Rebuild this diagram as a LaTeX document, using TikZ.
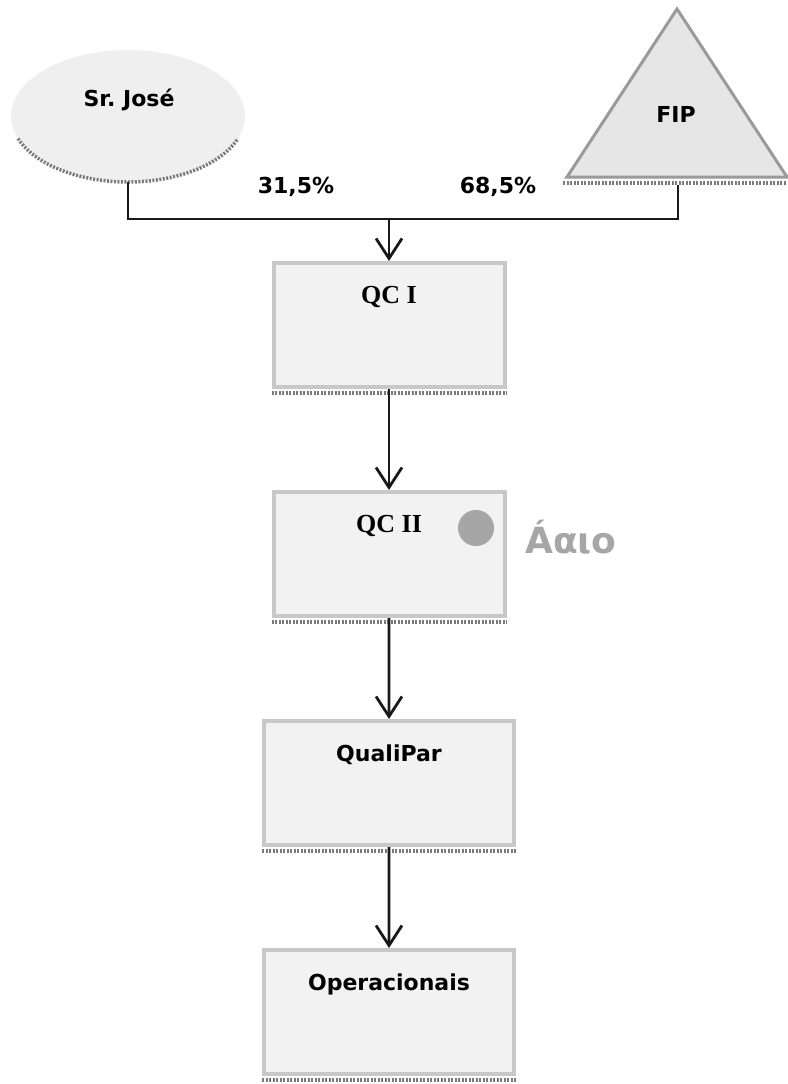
\documentclass[tikz,border=0pt]{standalone}
\usepackage{fontspec}
\setmainfont{DejaVu Sans}
\newfontfamily\qcfont{Liberation Serif}
\usetikzlibrary{calc, shapes, backgrounds, arrows.meta}

\definecolor{boxfill}{HTML}{F2F2F2}
\definecolor{boxline}{HTML}{C8C8C8}
\definecolor{rimgray}{HTML}{7A7A7A}
\definecolor{markgray}{HTML}{A6A6A6}
\definecolor{trifill}{HTML}{E6E6E6}
\definecolor{triline}{HTML}{9A9A9A}
\definecolor{ovalfill}{HTML}{EFEFEF}

\begin{document}
\frenchspacing
\begin{tikzpicture}
  [
    x = 1pt, y = -1pt,
    every node/.style = {font = \fontsize{22}{26}\selectfont\bfseries},
    box/.style = {rectangle, draw = boxline, line width = 4pt, fill = boxfill,
      minimum width = 250pt, inner sep = 0pt,
      text height = 40pt, text depth = 84pt},
    narrow/.style = {minimum width = 231pt},
    qc/.style = {font = \qcfont\fontsize{26}{30}\selectfont\bfseries},
    rim/.style = {draw = rimgray, line width = 3.5pt, dash pattern = on 2pt off 1.5pt},
    link/.style = {draw = black!90, line width = 2.8pt},
    tip/.style = {-{Straight Barb[length=20pt, width=26pt]}},
    grow = down,  % boxes one under the other
    level distance = 229pt,
    edge from parent/.style = {link, tip}
  ]
  \useasboundingbox (0,0) rectangle (787,1084);

  \node[ellipse, fill = ovalfill, minimum width = 234pt, minimum height = 132pt] (SrJose) at (128,116) {};
  \draw[rim] (SrJose.center) ++(200:117pt and 66pt) arc[start angle = 200, end angle = 340, x radius = 117pt, y radius = 66pt];
  \node (SrJoseName) at (129,100) {Sr. José};

  \draw[fill = trifill, draw = triline, line width = 3pt] (677,9) -- (787,177) -- (567,177) -- cycle;
  \draw[rim] (563,183) -- (787,183);
  \node (FIP) at (676,114) {FIP};
  \coordinate (FIPbase) at (678,185);

  \node[box, narrow, qc] (QCI) at (389,325) {QC I}
   child { node[box, narrow, qc] (QCII) {QC II}
     child { node[box] (QualiPar) {QualiPar}
       child { node[box] (Oper) {Operacionais}}}};

  \begin{scope}[on background layer]
    \foreach \n in {QCI, QCII, QualiPar, Oper}
      \draw[rim] ([yshift=-4pt]\n.south west) -- ([yshift=-4pt]\n.south east);
  \end{scope}

  \coordinate (join) at (389,219);
  \draw[link] (SrJose.south) |- (join);
  \draw[link] (FIPbase) |- (join);
  \draw[link, tip] (join) -- (QCI.north);

  \begin{scope}[nodes = {draw = none}]
    \node (PctJose) at (296,187) {31,5\%};
    \node (PctFIP) at (498,187) {68,5\%};
    \node[circle, fill = markgray, minimum size = 36pt, inner sep = 0pt] (Dot) at (476,528) {};
    \node[text = markgray, font = \fontsize{36}{40}\selectfont\bfseries] (Aaio) at (571,537) {Áαιο};
  \end{scope}
\end{tikzpicture}
\end{document}
